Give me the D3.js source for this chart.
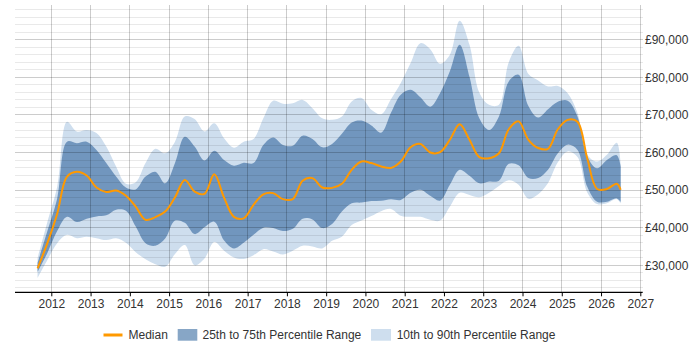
<!DOCTYPE html>
<html><head><meta charset="utf-8">
<script src="https://cdn.jsdelivr.net/npm/d3@7"></script>
<style>
body{margin:0;background:#fff}
svg{display:block;font-family:"Liberation Sans",Arial,sans-serif}
</style>
</head><body>
<svg id="chart" width="700" height="350"></svg>
<script>
// ---- data (decimal years, salaries in GBP) ----
const dates = [2011.65,2011.90,2012.15,2012.40,2012.65,2012.90,2013.15,2013.40,2013.65,2013.90,
  2014.15,2014.40,2014.65,2014.90,2015.15,2015.40,2015.65,2015.90,2016.15,2016.40,
  2016.65,2016.90,2017.15,2017.40,2017.65,2017.90,2018.15,2018.40,2018.65,2018.90,
  2019.15,2019.40,2019.65,2019.90,2020.15,2020.40,2020.65,2020.90,2021.15,2021.40,
  2021.65,2021.90,2022.15,2022.40,2022.65,2022.90,2023.15,2023.40,2023.65,2023.90,
  2024.15,2024.40,2024.65,2024.90,2025.15,2025.40,2025.65,2025.90,2026.15,2026.40,2026.50];
const p90 = [31900,41500,50900,68200,65600,66000,65200,61600,56300,51700,
  52100,57200,61000,59800,62900,69600,68900,65600,67800,63800,
  61300,62900,63600,69100,73800,73000,73100,74000,71800,69100,
  68700,69600,73600,74500,71400,70200,74200,78500,83800,89100,
  87500,83600,86000,95100,88700,76000,72700,72700,84000,88400,
  80900,79200,77600,77700,75800,70500,59400,57600,59400,62600,57000];
const p75 = [30600,39100,47800,62900,62500,62900,60700,57200,53600,50700,
  50200,53600,54900,51800,57200,64200,61600,57900,60500,58000,
  56500,57300,57200,62000,64000,62000,61800,64500,63600,61400,
  62300,65000,68000,68500,67200,65300,70600,75400,76700,74700,
  72200,75800,81600,88700,80200,69100,66000,69600,78900,80700,
  72400,69300,71500,73500,73800,69600,58900,55800,58000,59300,56300];
const median = [29200,35900,43700,53600,54900,53900,50700,49500,49900,48500,
  45600,42100,42800,44300,48100,52700,49600,49000,54200,48000,
  42900,42500,46100,48900,49200,47600,47600,52500,53200,50700,
  50600,51700,55400,57600,57200,56300,55900,57600,61400,62300,
  60000,60100,63400,67500,63400,58800,58500,59800,66200,68300,
  63400,61200,61000,66200,68700,68200,58400,50300,50300,51700,50100];
const p25 = [28200,33300,39100,42900,41500,42400,43000,43300,44800,44500,
  40300,35900,35200,37100,41900,41300,38300,40100,41600,36600,
  34500,36000,38100,40000,39900,39100,39700,42400,42200,39900,
  41000,44300,46500,46700,47100,47200,47600,47400,49300,50100,
  48500,47200,51400,55400,53800,51800,52300,52500,57000,56600,
  53200,53200,55400,59800,62100,60700,50900,46900,46900,47800,46900];
const p10 = [26600,31400,35900,38100,37200,37600,37200,36700,37200,36000,
  33500,31600,30300,29600,33000,35400,30000,31800,36200,33900,
  32100,31700,32700,34300,33700,32900,33900,35200,35000,34500,
  36500,37600,40700,41900,43100,44400,45000,43200,42900,42900,
  42100,41900,45600,49300,48700,48100,49300,51100,52600,51400,
  47700,48900,51900,57400,60300,58800,49400,46300,46500,47600,46500];
const xTicks = [2012,2013,2014,2015,2016,2017,2018,2019,2020,2021,2022,2023,2024,2025,2026,2027];
const yTicks = [30000,40000,50000,60000,70000,80000,90000];
const legendLabels = ["Median","25th to 75th Percentile Range","10th to 90th Percentile Range"];

// ---- layout ----
const plotL = 15, plotR = 642.7, plotT = 5, plotB = 292.3;
const C = {light:"#cedeee", dark:"#7196be", darkLegend:"#87a6c6", median:"#ff9900", text:"#333"};

const svg = d3.select("#chart");
const x = d3.scaleLinear().domain([2012, 2027]).range([51.3, 640.3]);
const y = d3.scaleLinear().domain([30000, 90000]).range([265.3, 39.8]);

const rows = dates.map((d,i)=>({t:d,p10:p10[i],p25:p25[i],m:median[i],p75:p75[i],p90:p90[i]}));

// bands
const curve = d3.curveCatmullRom.alpha(0.5);
svg.append("path").datum(rows)
  .attr("d", d3.area().curve(curve).x(d=>x(d.t)).y0(d=>y(d.p10)).y1(d=>y(d.p90)))
  .attr("fill", C.light);
svg.append("path").datum(rows)
  .attr("d", d3.area().curve(curve).x(d=>x(d.t)).y0(d=>y(d.p25)).y1(d=>y(d.p75)))
  .attr("fill", C.dark);

// grid (semi-transparent over bands)
const grid = svg.append("g");
const yMin = y.invert(plotB), yMax = y.invert(plotT);
const minor = d3.range(Math.ceil(yMin/2000)*2000, yMax, 2000).filter(v=>v%10000!==0);
grid.selectAll("line.minor").data(minor).join("line")
  .attr("x1", plotL).attr("x2", plotR).attr("y1", d=>y(d)).attr("y2", d=>y(d))
  .attr("stroke", "#000").attr("stroke-opacity", 0.085).attr("shape-rendering","crispEdges");
grid.selectAll("line.major").data(yTicks).join("line")
  .attr("x1", plotL).attr("x2", plotR).attr("y1", d=>y(d)).attr("y2", d=>y(d))
  .attr("stroke", "#000").attr("stroke-opacity", 0.2).attr("shape-rendering","crispEdges");
grid.selectAll("line.v").data(xTicks).join("line")
  .attr("x1", d=>x(d)).attr("x2", d=>x(d)).attr("y1", plotT).attr("y2", plotB)
  .attr("stroke", "#000").attr("stroke-opacity", 0.2).attr("shape-rendering","crispEdges");

// median
svg.append("path").datum(rows)
  .attr("d", d3.line().curve(curve).x(d=>x(d.t)).y(d=>y(d.m)))
  .attr("fill","none").attr("stroke", C.median).attr("stroke-width", 2);

// x axis
const xa = svg.append("g").attr("transform", `translate(0,${plotB})`)
  .call(d3.axisBottom(x).tickValues(xTicks).tickFormat(d3.format("d")).tickSize(4).tickPadding(3));
xa.select(".domain").remove();
xa.selectAll(".tick line").attr("stroke","#000");
xa.selectAll("text").attr("fill", C.text).style("font-size","12px").style("font-family","'Liberation Sans',Arial,sans-serif");
svg.append("line").attr("x1", plotL).attr("x2", plotR).attr("y1", plotB).attr("y2", plotB)
  .attr("stroke","#000").attr("stroke-width",1.2);

// y labels (right)
svg.append("g").selectAll("text").data(yTicks).join("text")
  .attr("x", 645).attr("y", d=>y(d)).attr("dy","0.35em")
  .attr("fill", C.text).style("font-size","12px")
  .text(d=>"£"+d3.format(",")(d));

// legend
const lg = svg.append("g");
lg.append("line").attr("x1",103.5).attr("x2",122.5).attr("y1",335).attr("y2",335)
  .attr("stroke",C.median).attr("stroke-width",3);
lg.append("text").attr("x",128.5).attr("y",338.5).attr("fill",C.text).style("font-size","12px").text(legendLabels[0]);
lg.append("rect").attr("x",177.7).attr("y",329).attr("width",19.6).attr("height",11.7).attr("fill",C.darkLegend);
lg.append("text").attr("x",202.5).attr("y",338.5).attr("fill",C.text).style("font-size","12px").text(legendLabels[1]);
lg.append("rect").attr("x",371).attr("y",329).attr("width",20).attr("height",11.7).attr("fill",C.light);
lg.append("text").attr("x",396.7).attr("y",338.5).attr("fill",C.text).style("font-size","12px").text(legendLabels[2]);
</script>
</body></html>
